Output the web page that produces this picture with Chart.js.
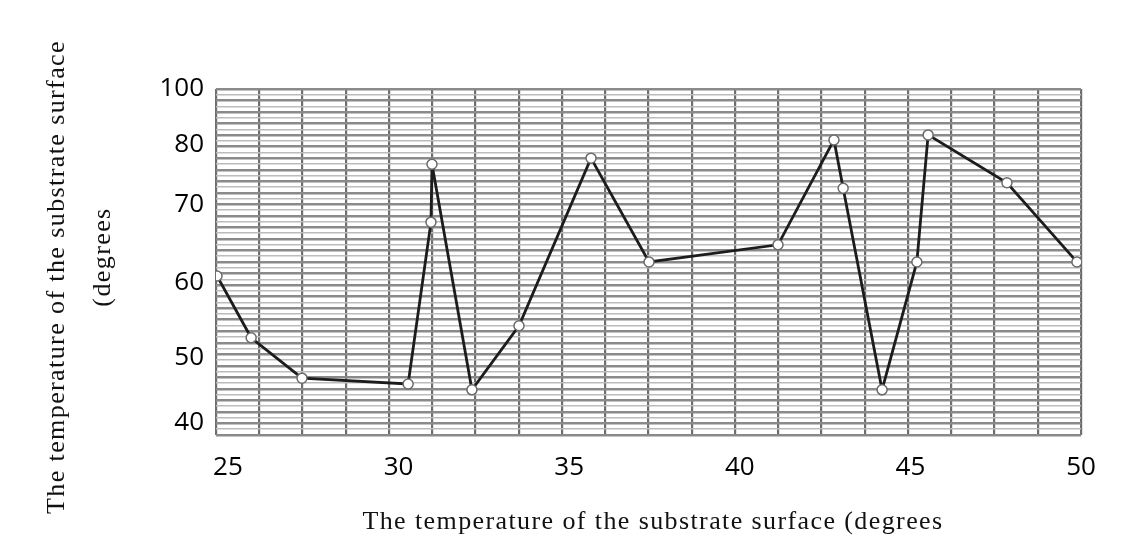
<!DOCTYPE html>
<html>
<head>
<meta charset="utf-8">
<script src="https://cdn.jsdelivr.net/npm/chart.js@4"></script>
<style>
  body { margin: 0; background: #fff; }
  #wrap { width: 1139px; height: 541px; position: relative; }
</style>
</head>
<body>
<div id="wrap"><canvas id="tempChart"></canvas></div>
<script>
// values
const xValues = [24.68, 25.68, 27.17, 30.28, 30.95, 30.98, 32.15, 33.53, 35.64, 37.34, 41.12, 42.76, 43.03, 44.17, 45.19, 45.52, 47.83, 49.88];
const yValues = [60.9, 52.7, 46.9, 46.0, 67.8, 76.8, 45.1, 54.3, 77.8, 62.7, 64.9, 81.8, 72.8, 45.1, 62.7, 83.6, 73.7, 62.7];
const xTickLabels = [25, 30, 35, 40, 45, 50];
const yTickLabels = [40, 50, 60, 70, 80, 100];
const xTitle = 'The temperature of the substrate surface (degrees';
const yTitle = ['The temperature of the substrate surface', '(degrees'];

// the original y axis is not evenly spaced, so map value -> fraction of plot height piecewise
const yStops = [[38.15, 0], [40, 0.0347], [50, 0.2225], [60, 0.4393], [70, 0.6647], [80, 0.8382], [100, 1]];

function interp(v, from, to) {
  let i = 0;
  while (i < yStops.length - 2 && v > yStops[i + 1][from]) i++;
  const a = yStops[i], b = yStops[i + 1];
  return a[to] + (v - a[from]) * (b[to] - a[to]) / (b[from] - a[from]);
}

class PiecewiseScale extends Chart.LinearScale {
  getPixelForValue(value) {
    const f = interp(value, 0, 1);
    return this.bottom - f * (this.bottom - this.top);
  }
  getValueForPixel(pixel) {
    const f = (this.bottom - pixel) / (this.bottom - this.top);
    return interp(f, 1, 0);
  }
}
PiecewiseScale.id = 'piecewise';
PiecewiseScale.defaults = Chart.LinearScale.defaults;
Chart.register(PiecewiseScale);

const axisTitles = {
  id: 'axisTitles',
  afterDraw(chart) {
    const ctx = chart.ctx;
    ctx.save();
    ctx.fillStyle = '#111';
    ctx.font = '26px "Liberation Serif", serif';
    ctx.letterSpacing = '1.4px';
    ctx.textAlign = 'center';
    ctx.textBaseline = 'middle';
    ctx.fillText(xTitle, 653, 522);
    ctx.translate(57, 277);
    ctx.rotate(-Math.PI / 2);
    ctx.fillText(yTitle[0], 0, 0);
    ctx.fillText(yTitle[1], 20, 46);
    ctx.restore();
  }
};

const points = xValues.map((x, i) => ({ x: x, y: yValues[i] }));
const tickFont = { family: '"Open Sans", sans-serif', size: 26 };

new Chart(document.getElementById('tempChart'), {
  type: 'line',
  data: {
    datasets: [{
      data: points,
      xAxisID: 'x',
      yAxisID: 'y',
      borderColor: '#1c1c1c',
      borderWidth: 2.8,
      tension: 0,
      pointRadius: 5,
      pointBackgroundColor: '#fff',
      pointBorderColor: '#6a6a6a',
      pointBorderWidth: 1.5
    }]
  },
  options: {
    responsive: true,
    maintainAspectRatio: false,
    animation: false,
    layout: { padding: { left: 0, right: 58, top: 89, bottom: 0 } },
    plugins: { legend: { display: false }, tooltip: { enabled: false } },
    scales: {
      xg: {
        type: 'linear',
        position: 'bottom',
        min: 0, max: 20,
        ticks: { display: false, stepSize: 1 },
        grid: { color: '#6e6e6e', lineWidth: 2.2, drawTicks: false },
        border: { display: false },
        afterFit: s => { s.height = 0; }
      },
      yg: {
        type: 'linear',
        position: 'left',
        min: 0, max: 60,
        ticks: { display: false, stepSize: 1 },
        grid: {
          color: c => (c.index % 2 === 0 ? '#8a8a8a' : '#bcbcbc'),
          lineWidth: c => (c.index % 2 === 0 ? 2.4 : 1.5),
          drawTicks: false
        },
        border: { display: false },
        afterFit: s => { s.width = 0; }
      },
      x: {
        type: 'linear',
        position: 'bottom',
        min: 24.65, max: 50,
        afterBuildTicks: s => { s.ticks = xTickLabels.map(v => ({ value: v })); },
        ticks: { color: '#000', font: tickFont, padding: 17, maxRotation: 0 },
        grid: { display: false, drawTicks: false },
        border: { display: false },
        afterFit: s => { s.height = 106; }
      },
      y: {
        type: 'piecewise',
        position: 'left',
        min: 38.15, max: 100,
        afterBuildTicks: s => { s.ticks = yTickLabels.map(v => ({ value: v })); },
        ticks: { color: '#000', font: tickFont, padding: 12 },
        grid: { display: false, drawTicks: false },
        border: { display: false },
        afterFit: s => { s.width = 216; }
      }
    }
  },
  plugins: [axisTitles]
});
</script>
</body>
</html>
